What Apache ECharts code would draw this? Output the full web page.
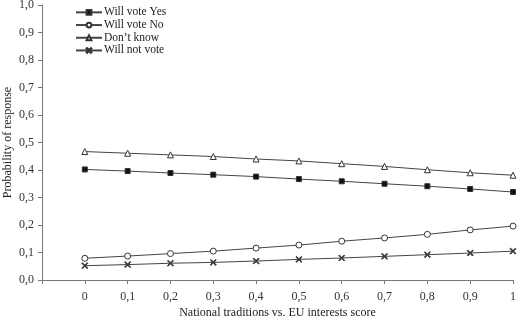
<!DOCTYPE html>
<html>
<head>
<meta charset="utf-8">
<script src="https://cdn.jsdelivr.net/npm/echarts@6/dist/echarts.min.js"></script>
<style>
  html, body { margin: 0; padding: 0; background: #fff; }
  #main { width: 523px; height: 320px; }
</style>
</head>
<body>
<div id="main"></div>
<script>
    // categories (first one is empty padding before 0)
    var scores = ['', '0', '0,1', '0,2', '0,3', '0,4', '0,5', '0,6', '0,7', '0,8', '0,9', '1'];

    var voteYes = ['-', 0.402, 0.396, 0.389, 0.383, 0.376, 0.367, 0.359, 0.350, 0.341, 0.331, 0.320];
    var voteNo = ['-', 0.079, 0.087, 0.096, 0.105, 0.116, 0.127, 0.141, 0.153, 0.166, 0.182, 0.196];
    var dontKnow = ['-', 0.467, 0.461, 0.455, 0.449, 0.440, 0.433, 0.423, 0.413, 0.401, 0.390, 0.381];
    var notVote = ['-', 0.052, 0.056, 0.061, 0.064, 0.069, 0.075, 0.080, 0.086, 0.092, 0.098, 0.105];

    var font = 'Liberation Serif';
    var ink = '#333';
    var crossPath = 'path://M0,1L1,0L5,4L9,0L10,1L6,5L10,9L9,10L5,6L1,10L0,9L4,5Z';

    var myChart = echarts.init(document.getElementById('main'));

    function mkSeries(name, data, symbol, size, fill) {
        return {
            name: name,
            type: 'line',
            data: data,
            symbol: symbol,
            symbolSize: size,
            showAllSymbol: true,
            lineStyle: { color: '#444', width: 1 },
            itemStyle: { color: fill, borderColor: ink, borderWidth: 1 },
            emphasis: { disabled: true },
            animation: false
        };
    }

    var option = {
        animation: false,
        textStyle: { fontFamily: font },
        grid: { left: 42, right: 10, top: 5, bottom: 40, containLabel: false, outerBoundsMode: 'none' },
        legend: {
            orient: 'vertical',
            left: 70,
            top: 1,
            itemWidth: 26,
            itemHeight: 6,
            itemGap: 0,
            textStyle: { fontFamily: font, fontSize: 11.5, lineHeight: 12.7, color: '#222', padding: [0, 0, 0, -3] },
            data: ['Will vote Yes', 'Will vote No', "Don\u2019t know", 'Will not vote']
        },
        xAxis: {
            type: 'category',
            data: scores,
            boundaryGap: false,
            name: 'National traditions vs. EU interests score',
            nameLocation: 'middle',
            nameGap: 33,
            nameMoveOverlap: false,
            nameTextStyle: { fontFamily: font, fontSize: 12, color: '#222', verticalAlign: 'middle' },
            axisLine: { lineStyle: { color: '#777', width: 1 } },
            axisTick: { show: true, length: 4, alignWithLabel: true, lineStyle: { color: '#777' } },
            axisLabel: { fontFamily: font, fontSize: 12, color: ink, margin: 11 },
            splitLine: { show: false }
        },
        yAxis: {
            type: 'value',
            min: 0,
            max: 1,
            interval: 0.1,
            name: 'Probability of response',
            nameLocation: 'middle',
            nameGap: 34,
            nameMoveOverlap: false,
            nameTextStyle: { fontFamily: font, fontSize: 12, color: '#222', verticalAlign: 'middle' },
            axisLine: { show: true, lineStyle: { color: '#777', width: 1 } },
            axisTick: { show: true, length: 4, lineStyle: { color: '#777' } },
            axisLabel: {
                fontFamily: font, fontSize: 12, color: ink, margin: 8,
                formatter: function (v) { return v.toFixed(1).replace('.', ','); }
            },
            splitLine: { show: false }
        },
        series: [
            mkSeries('Will vote Yes', voteYes, 'rect', 5, '#111'),
            mkSeries('Will vote No', voteNo, 'circle', 6, '#fff'),
            mkSeries("Don\u2019t know", dontKnow, 'triangle', 6, '#fff'),
            mkSeries('Will not vote', notVote, crossPath, 6, ink)
        ]
    };
    myChart.setOption(option);
</script>
</body>
</html>
